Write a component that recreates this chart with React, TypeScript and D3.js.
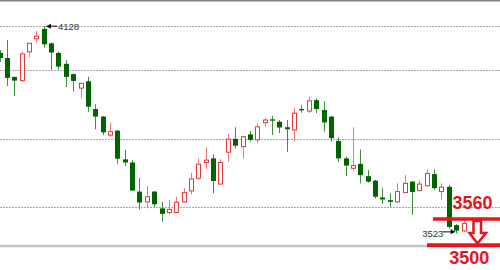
import React from "react";
import * as d3 from "d3";

// OHLC values (index-based trading days)
const opens = [4050,4035,3980,3969,4053,4091,4120,4078,4050,4018,3988,3947,3967,3886,3864,3810,3823,3739,3730,3645,3615,3645,3596,3584,3584,3615,3647,3684,3730,3742,3667,3760,3799,3776,3812,3796,3846,3856,3849,3833,3825,3886,3880,3912,3883,3864,3793,3742,3713,3726,3690,3677,3628,3620,3615,3642,3674,3648,3662,3696,3645,3659,3547,3530];
const highs = [4058,4088,3980,4053,4079,4114,4128,4080,4053,4029,3990,3963,3980,3900,3866,3847,3825,3766,3737,3685,3661,3647,3615,3620,3630,3655,3700,3742,3774,3754,3740,3813,3833,3808,3822,3844,3859,3866,3854,3854,3890,3898,3922,3917,3909,3866,3803,3747,3833,3768,3708,3679,3656,3640,3669,3693,3676,3679,3710,3710,3669,3664,3550,3562];
const lows = [4023,3953,3924,3966,4037,4080,4065,4000,4001,3950,3937,3917,3878,3827,3810,3805,3726,3720,3647,3593,3596,3601,3557,3577,3582,3612,3637,3679,3711,3640,3665,3732,3771,3742,3791,3786,3834,3810,3815,3761,3791,3875,3875,3874,3820,3791,3732,3690,3706,3669,3671,3625,3609,3601,3613,3641,3577,3645,3661,3650,3620,3538,3523,3527];
const closes = [4035,3977,3969,4047,4078,4099,4075,4051,4010,3980,3968,3961,3893,3864,3818,3820,3741,3730,3648,3613,3630,3608,3580,3593,3614,3642,3682,3725,3737,3676,3730,3798,3779,3805,3796,3834,3854,3852,3832,3827,3874,3882,3910,3886,3847,3801,3742,3721,3721,3693,3674,3630,3622,3615,3645,3669,3644,3667,3698,3655,3658,3542,3531,3552];

const gridLevels = [4128, 4000, 3800, 3600];
const highLabel = "4128";
const highIndex = 6;
const lowLabel = "3523";
const lowIndex = 62;
const annotationLevels = [3565, 3488];
const annotationLabels = ["3560", "3500"];

const W = 500;
const H = 270;

export default function App() {
  const x = d3.scaleLinear().domain([0, opens.length - 1]).range([0, 464]);
  const y = d3.scaleLinear().domain([3600, 4000]).range([207, 70]);
  const green = "#006400";
  const greenWick = "#3f8f3f";
  const red = "#e23a3a";
  const redWick = "#ee7a7a";
  const annRed = "#e8141c";

  const hx = x(highIndex);
  const hy = y(highs[highIndex]);
  const lx = x(lowIndex);
  const ly = y(lows[lowIndex]);
  const yA = y(annotationLevels[0]);
  const yB = y(annotationLevels[1]);

  return (
    <svg width={W} height={H} style={{ position: "absolute", left: 0, top: 0, background: "#fff" }}
      fontFamily="'Liberation Sans', Arial, sans-serif">
      <rect x={0} y={0} width={W} height={H} fill="#fff" />
      <rect x={0} y={0} width={W} height={1.5} fill="#808080" />
      {gridLevels.map((g, i) => (
        <line key={i} x1={0} x2={W} y1={Math.round(y(g)) + 0.5} y2={Math.round(y(g)) + 0.5}
          stroke="#a8a8a8" strokeWidth={1} strokeDasharray="2,1" />
      ))}
      <line x1={0} x2={430} y1={246} y2={246} stroke="#c4c4c4" strokeWidth={2.5} />
      {opens.map((o, i) => {
        const c = closes[i];
        const up = c > o;
        const cx = x(i);
        const left = Math.round(cx - 2.5);
        const wx = left + 2.5;
        const top = y(Math.max(o, c));
        const bot = y(Math.min(o, c));
        const bh = Math.max(1.2, bot - top);
        return (
          <g key={i}>
            <line x1={wx} x2={wx} y1={y(highs[i])} y2={y(lows[i])} stroke={up ? redWick : greenWick} strokeWidth={1} />
            {up ? (
              <rect x={left + 0.5} y={top} width={4} height={Math.max(1, bh)} fill="#fff" stroke={red} strokeWidth={1} />
            ) : (
              <rect x={left} y={top} width={5} height={bh} fill={green} />
            )}
          </g>
        );
      })}
      {/* high label */}
      <line x1={Math.round(hx) + 5} x2={Math.round(hx) + 13} y1={hy} y2={hy} stroke="#111" strokeWidth={1} />
      <path d={`M${Math.round(hx) + 2},${hy} L${Math.round(hx) + 7},${hy - 2.5} L${Math.round(hx) + 7},${hy + 2.5} Z`} fill="#111" />
      <text x={Math.round(hx) + 14} y={hy + 4} fontSize={9.5} fill="#333">{highLabel}</text>
      {/* low label */}
      <text x={lx - 34.5} y={ly + 3.5} fontSize={9.5} fill="#333">{lowLabel}</text>
      <line x1={lx - 14} x2={lx - 4} y1={ly - 1.5} y2={ly - 1.5} stroke="#111" strokeWidth={1} />
      <path d={`M${lx - 1},${ly - 1.5} L${lx - 6},${ly - 4} L${lx - 6},${ly + 1} Z`} fill="#111" />
      {/* annotations */}
      <line x1={433} x2={W} y1={yA} y2={yA} stroke={annRed} strokeWidth={3.5} />
      <line x1={427} x2={W} y1={yB} y2={yB} stroke={annRed} strokeWidth={4} />
      <text x={452.5} y={yA - 9.5} fontSize={18} fontWeight="bold" fill={annRed}>{annotationLabels[0]}</text>
      <text x={449.3} y={264} fontSize={18} fontWeight="bold" fill={annRed}>{annotationLabels[1]}</text>
      <path d={`M473.5,${yA + 2} L481,${yA + 2} L481,233 L486,233 L477.5,243.5 L469.5,233 L473.5,233 Z`}
        fill="#fff" stroke={annRed} strokeWidth={2.5} strokeLinejoin="miter" />
    </svg>
  );
}
